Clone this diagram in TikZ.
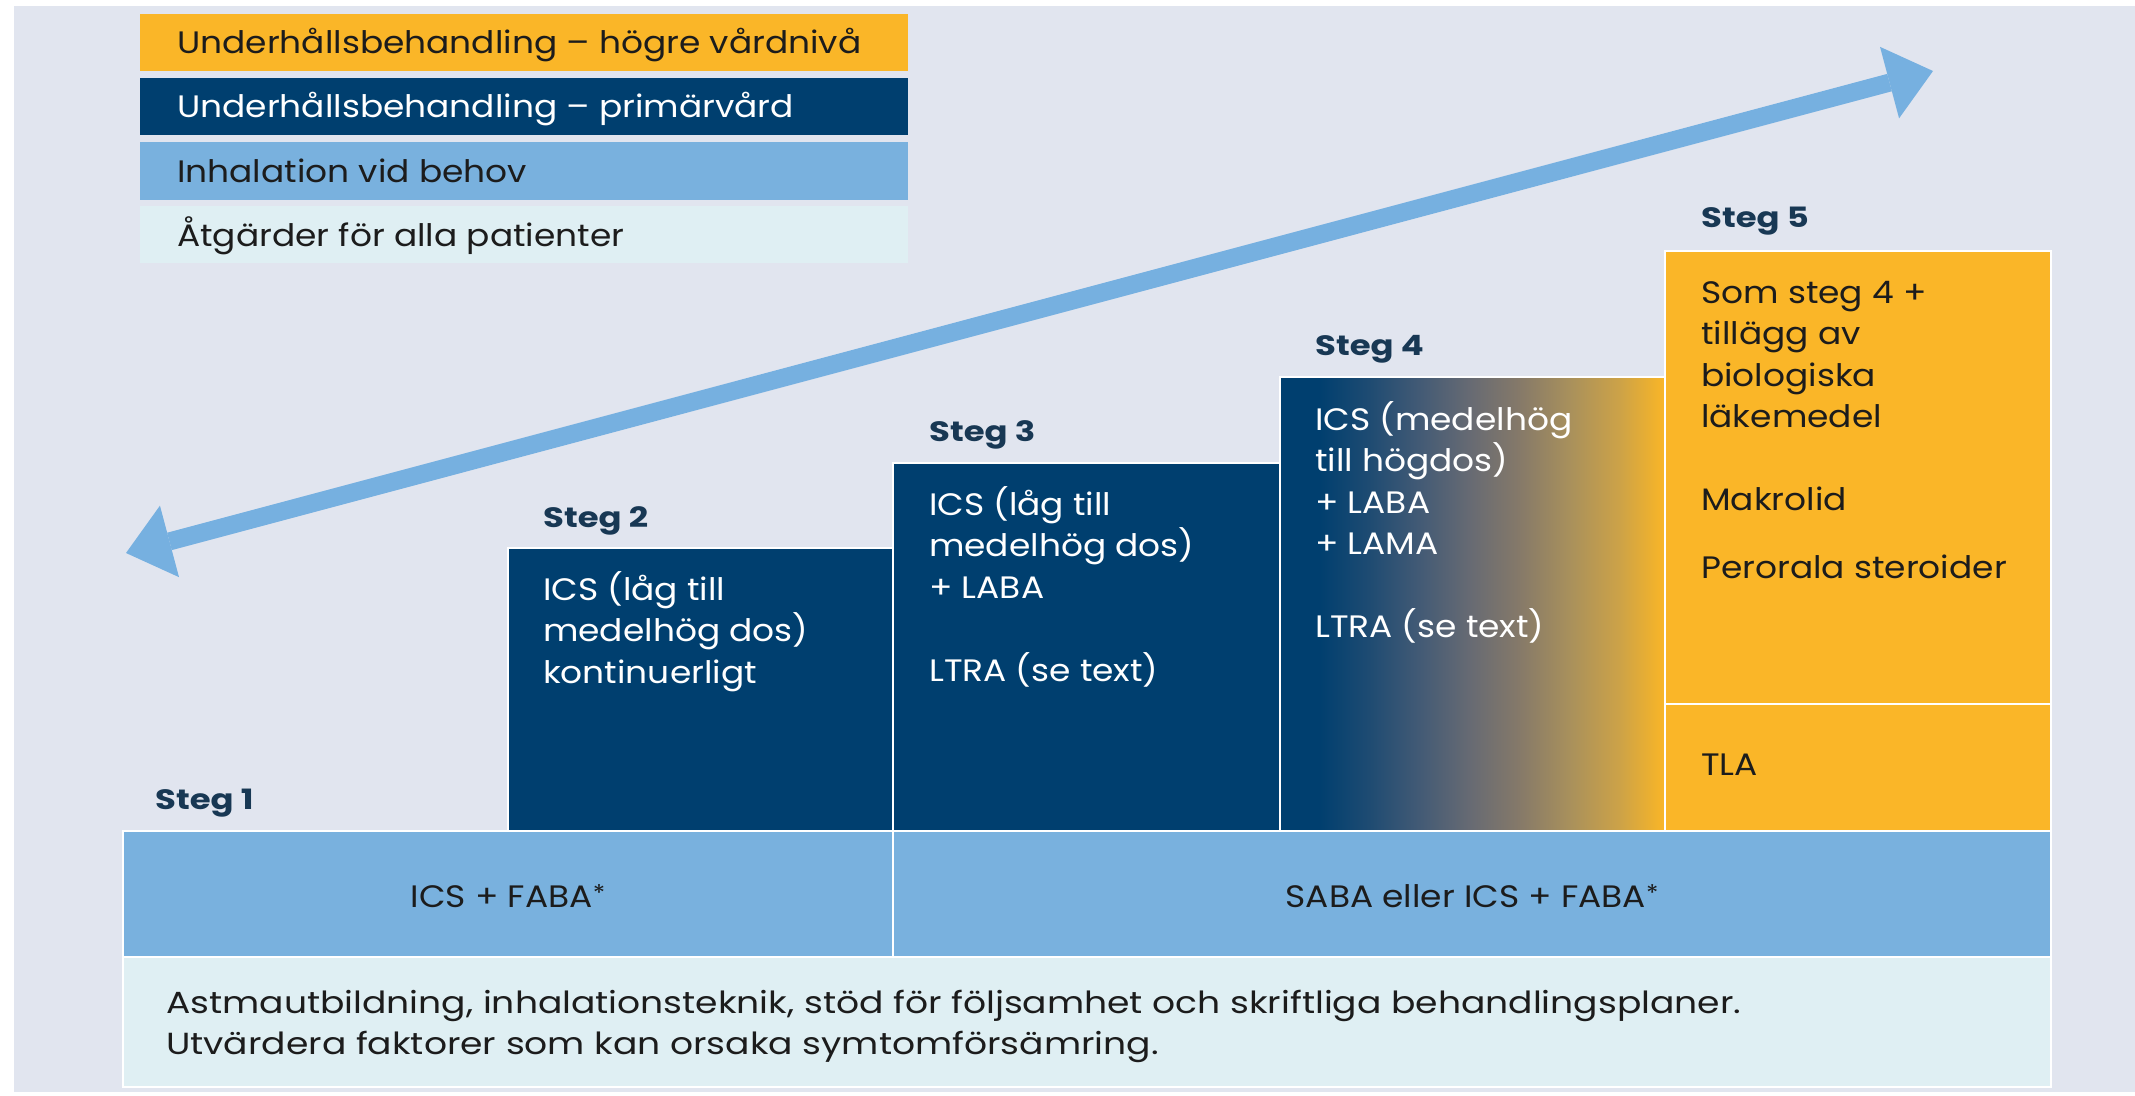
\documentclass[tikz,border=0pt]{standalone}
\usepackage{fontspec}
\setmainfont{Poppins}[FakeStretch=1.11]
\newfontfamily\widefont{Poppins}[FakeStretch=1.183]
\newfontfamily\labelfont{Poppins}[FakeStretch=1.21]
\usetikzlibrary{arrows.meta}

\definecolor{pagebg}{RGB}{225,229,239}
\definecolor{navyC}{RGB}{0,63,111}
\definecolor{orangeC}{RGB}{250,182,40}
\definecolor{skyC}{RGB}{121,177,222}
\definecolor{paleC}{RGB}{223,239,243}
\definecolor{labelC}{RGB}{24,56,84}
\definecolor{inkC}{RGB}{28,28,28}
\definecolor{arrowC}{RGB}{118,176,224}
% blend used for the step 4 box, navy on the left to orange on the right
\definecolor{gA}{RGB}{30,75,114}
\definecolor{gB}{RGB}{66,90,117}
\definecolor{gC}{RGB}{102,106,115}
\definecolor{gD}{RGB}{133,121,105}
\definecolor{gE}{RGB}{168,144,92}
\definecolor{gF}{RGB}{204,162,72}
\definecolor{gG}{RGB}{238,177,46}
\pgfdeclarehorizontalshading{stegfour}{100bp}{color(0bp)=(navyC); color(30bp)=(navyC);
  color(36.5bp)=(gA); color(43bp)=(gB); color(49.5bp)=(gC); color(56bp)=(gD);
  color(62.5bp)=(gE); color(69bp)=(gF); color(73.5bp)=(gG); color(75bp)=(orangeC);
  color(100bp)=(orangeC)}

% lines of a text block, first baseline = node baseline
\newcommand{\textlines}[1]{\vtop{\halign{##\hfil\cr#1\crcr}}}
% small raised asterisk
\newcommand{\fnstar}{\raisebox{6pt}{\fontsize{23}{23}\selectfont *}}

\tikzset{
  panel/.style={anchor=north west, inner sep=0pt, outer sep=0pt, draw=none},
  stepbox/.style={panel, draw=white, line width=2pt},
  bodytext/.style={anchor=base west, inner sep=0pt,
    font=\fontsize{31}{41.5}\selectfont},
  steplabel/.style={anchor=base west, inner sep=0pt, text=labelC,
    font=\labelfont\fontsize{28}{30}\selectfont\bfseries},
  bigarrow/.style={line width=18pt, draw=arrowC,
    {Triangle[length=45pt,width=74pt,line width=0pt]}-{Triangle[length=45pt,width=74pt,line width=0pt]}}
}

\begin{document}
\begin{tikzpicture}[x=1pt,y=-1pt]
\useasboundingbox (0,0) rectangle (2135,1095);
\fill[white] (0,0) rectangle (2135,1095);
\fill[pagebg] (14,6) rectangle (2135,1092);

% legend
\node[panel, fill=orangeC, minimum width=768pt, minimum height=57pt] (leg1) at (140,14) {};
\node[panel, fill=navyC,   minimum width=768pt, minimum height=57pt] (leg2) at (140,78) {};
\node[panel, fill=skyC,    minimum width=768pt, minimum height=58pt] (leg3) at (140,142) {};
\node[panel, fill=paleC,   minimum width=768pt, minimum height=57pt] (leg4) at (140,206) {};
\node[bodytext, text=inkC]  (leg1t) at (177,53)  {Underhållsbehandling – högre vårdnivå};
\node[bodytext, text=white] (leg2t) at (177,117) {Underhållsbehandling – primärvård};
\node[bodytext, text=inkC]  (leg3t) at (177,182) {Inhalation vid behov};
\node[bodytext, text=inkC]  (leg4t) at (177,246) {Åtgärder för alla patienter};

% direction arrow
\coordinate (arrowL) at (126,553);
\coordinate (arrowR) at (1933,71);
\draw[bigarrow] (arrowL) -- (arrowR);

% step boxes
\node[stepbox, fill=navyC, minimum width=385pt, minimum height=283pt] (s2) at (508,548) {};
\node[stepbox, fill=navyC, minimum width=387pt, minimum height=368pt] (s3) at (893,463) {};
\node[stepbox, shading=stegfour, minimum width=385pt, minimum height=454pt] (s4) at (1280,377) {};
\node[stepbox, fill=orangeC, minimum width=386pt, minimum height=580pt] (s5) at (1665,251) {};
\draw[white, line width=2pt] (s5.west |- 0,704) -- (s5.east |- 0,704);

% reliever row and common measures
\node[stepbox, fill=skyC,  minimum width=1928pt, minimum height=126pt] (rel) at (123,831) {};
\draw[white, line width=2pt] (s3.south west) -- (s3.south west |- rel.south);
\node[stepbox, fill=paleC, minimum width=1928pt, minimum height=130pt] (base) at (123,957) {};

% step labels
\node[steplabel] (l1) at (155,809) {Steg 1};
\node[steplabel] (l2) at (543,527) {Steg 2};
\node[steplabel] (l3) at (929,441) {Steg 3};
\node[steplabel] (l4) at (1315,355) {Steg 4};
\node[steplabel] (l5) at (1701,227) {Steg 5};

% step contents
\node[bodytext, text=white] (t2) at (543,600)
  {\textlines{ICS (låg till\cr medelhög dos)\cr kontinuerligt}};
\node[bodytext, text=white] (t3) at (929,515)
  {\textlines{ICS (låg till\cr medelhög dos)\cr + LABA\cr \cr LTRA (se text)}};
\node[bodytext, text=white] (t4) at (1315,430)
  {\textlines{ICS (medelhög\cr till högdos)\cr + LABA\cr + LAMA\cr \cr LTRA (se text)}};
\node[bodytext, text=inkC] (t5) at (1701,303)
  {\textlines{Som steg 4 +\cr tillägg av\cr biologiska\cr läkemedel\cr \cr Makrolid}};
\node[bodytext, text=inkC] (t5b) at (1701,578) {Perorala steroider};
\node[bodytext, text=inkC] (t5c) at (1701,775) {TLA};

% reliever texts
\node[bodytext, text=inkC, anchor=base] (r1) at (508,907) {ICS + FABA\fnstar};
\node[bodytext, text=inkC, anchor=base] (r2) at (1472,907) {SABA eller ICS + FABA\fnstar};

% measures for all patients
\node[bodytext, text=inkC, font=\widefont\fontsize{30.5}{41.5}\selectfont] (b1) at (166,1013)
  {\textlines{Astmautbildning, inhalationsteknik, stöd för följsamhet och skriftliga behandlingsplaner.\cr
  Utvärdera faktorer som kan orsaka symtomförsämring.}};
\end{tikzpicture}
\end{document}
